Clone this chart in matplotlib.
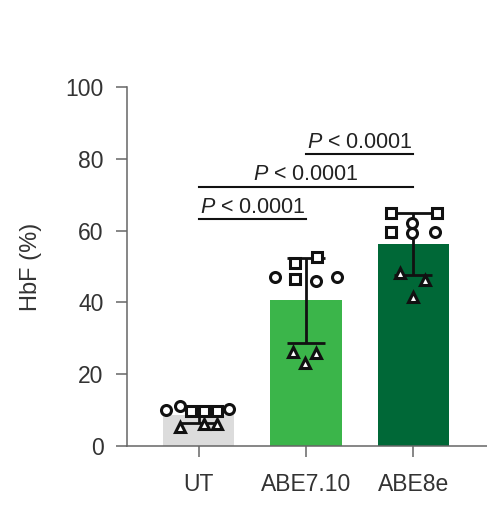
import numpy as np
import matplotlib
matplotlib.use("Agg")
import matplotlib.pyplot as plt

plt.rcParams["font.family"] = ["Liberation Sans", "DejaVu Sans"]
plt.rcParams["mathtext.fontset"] = "custom"
plt.rcParams["mathtext.rm"] = "Liberation Sans"
plt.rcParams["mathtext.it"] = "Liberation Sans:italic"

groups = ["UT", "ABE7.10", "ABE8e"]
bar_colors = ["#dcdcdc", "#3bb54a", "#006837"]

# HbF (%) per donor, split by marker shape
circles = [[10.0, 11.1, 10.2], [47.0, 47.0, 46.0], [62.0, 59.4, 59.5]]
squares = [[9.8, 9.8, 9.8], [50.9, 46.4, 52.7], [65.0, 59.5, 64.8]]
triangles = [[5.1, 6.0, 6.0], [26.1, 25.8, 23.0], [48.3, 46.2, 41.6]]

# horizontal scatter offsets (in group units) as drawn
circle_dx = [[-0.30, -0.17, 0.28], [-0.29, 0.29, 0.09], [-0.01, -0.01, 0.20]]
square_dx = [[-0.07, 0.05, 0.17], [-0.10, -0.10, 0.10], [-0.21, -0.21, 0.22]]
triangle_dx = [[-0.17, 0.05, 0.17], [-0.12, 0.09, -0.01], [-0.12, 0.11, 0.0]]

comparisons = [(0, 1, 63.2), (0, 2, 72.3), (1, 2, 81.3)]
p_text = "$\\it{P}$ < 0.0001"

fig = plt.figure(figsize=(4.87, 5.15), dpi=100)
ax = fig.add_axes([0.2608, 0.1346, 0.7392, 0.696])

x = np.arange(len(groups))
values = [np.array(c + s + t) for c, s, t in zip(circles, squares, triangles)]
means = [v.mean() for v in values]
sds = [v.std(ddof=1) for v in values]

ax.bar(x, means, width=0.665, color=bar_colors, zorder=1)
ax.errorbar(x, means, yerr=sds, fmt="none", ecolor="#111111",
            elinewidth=2.0, capsize=13.5, capthick=2.0, zorder=2)

mk = dict(linestyle="none", markerfacecolor="white", markeredgecolor="#111111",
          markeredgewidth=2.2, zorder=3)
for i in range(len(groups)):
    ax.plot(i + np.array(circle_dx[i]), circles[i], marker="o", markersize=7.2, **mk)
    ax.plot(i + np.array(square_dx[i]), squares[i], marker="s", markersize=6.8, **mk)
    ax.plot(i + np.array(triangle_dx[i]), triangles[i], marker="^", markersize=7.8, **mk)

for a, b, h in comparisons:
    ax.plot([a, b], [h, h], color="#111111", linewidth=1.5, zorder=4)
    ax.text((a + b) / 2, h + 1.7, p_text, ha="center", va="baseline",
            fontsize=15.5, color="#222222")

ax.set_xlim(-0.668, 2.687)
ax.set_ylim(0, 100)
ax.set_yticks([0, 20, 40, 60, 80, 100])
ax.set_xticks(x)
ax.set_xticklabels(groups)
ax.set_ylabel("HbF (%)", fontsize=17, color="#333333", labelpad=17)

for side in ["top", "right"]:
    ax.spines[side].set_visible(False)
for side in ["left", "bottom"]:
    ax.spines[side].set_color("#666666")
    ax.spines[side].set_linewidth(1.1)
ax.tick_params(axis="both", colors="#666666", labelcolor="#333333",
               labelsize=16.5, length=8, width=1.1)
ax.tick_params(axis="y", pad=9)
ax.tick_params(axis="x", pad=12)

fig.savefig("out.png", dpi=100)
